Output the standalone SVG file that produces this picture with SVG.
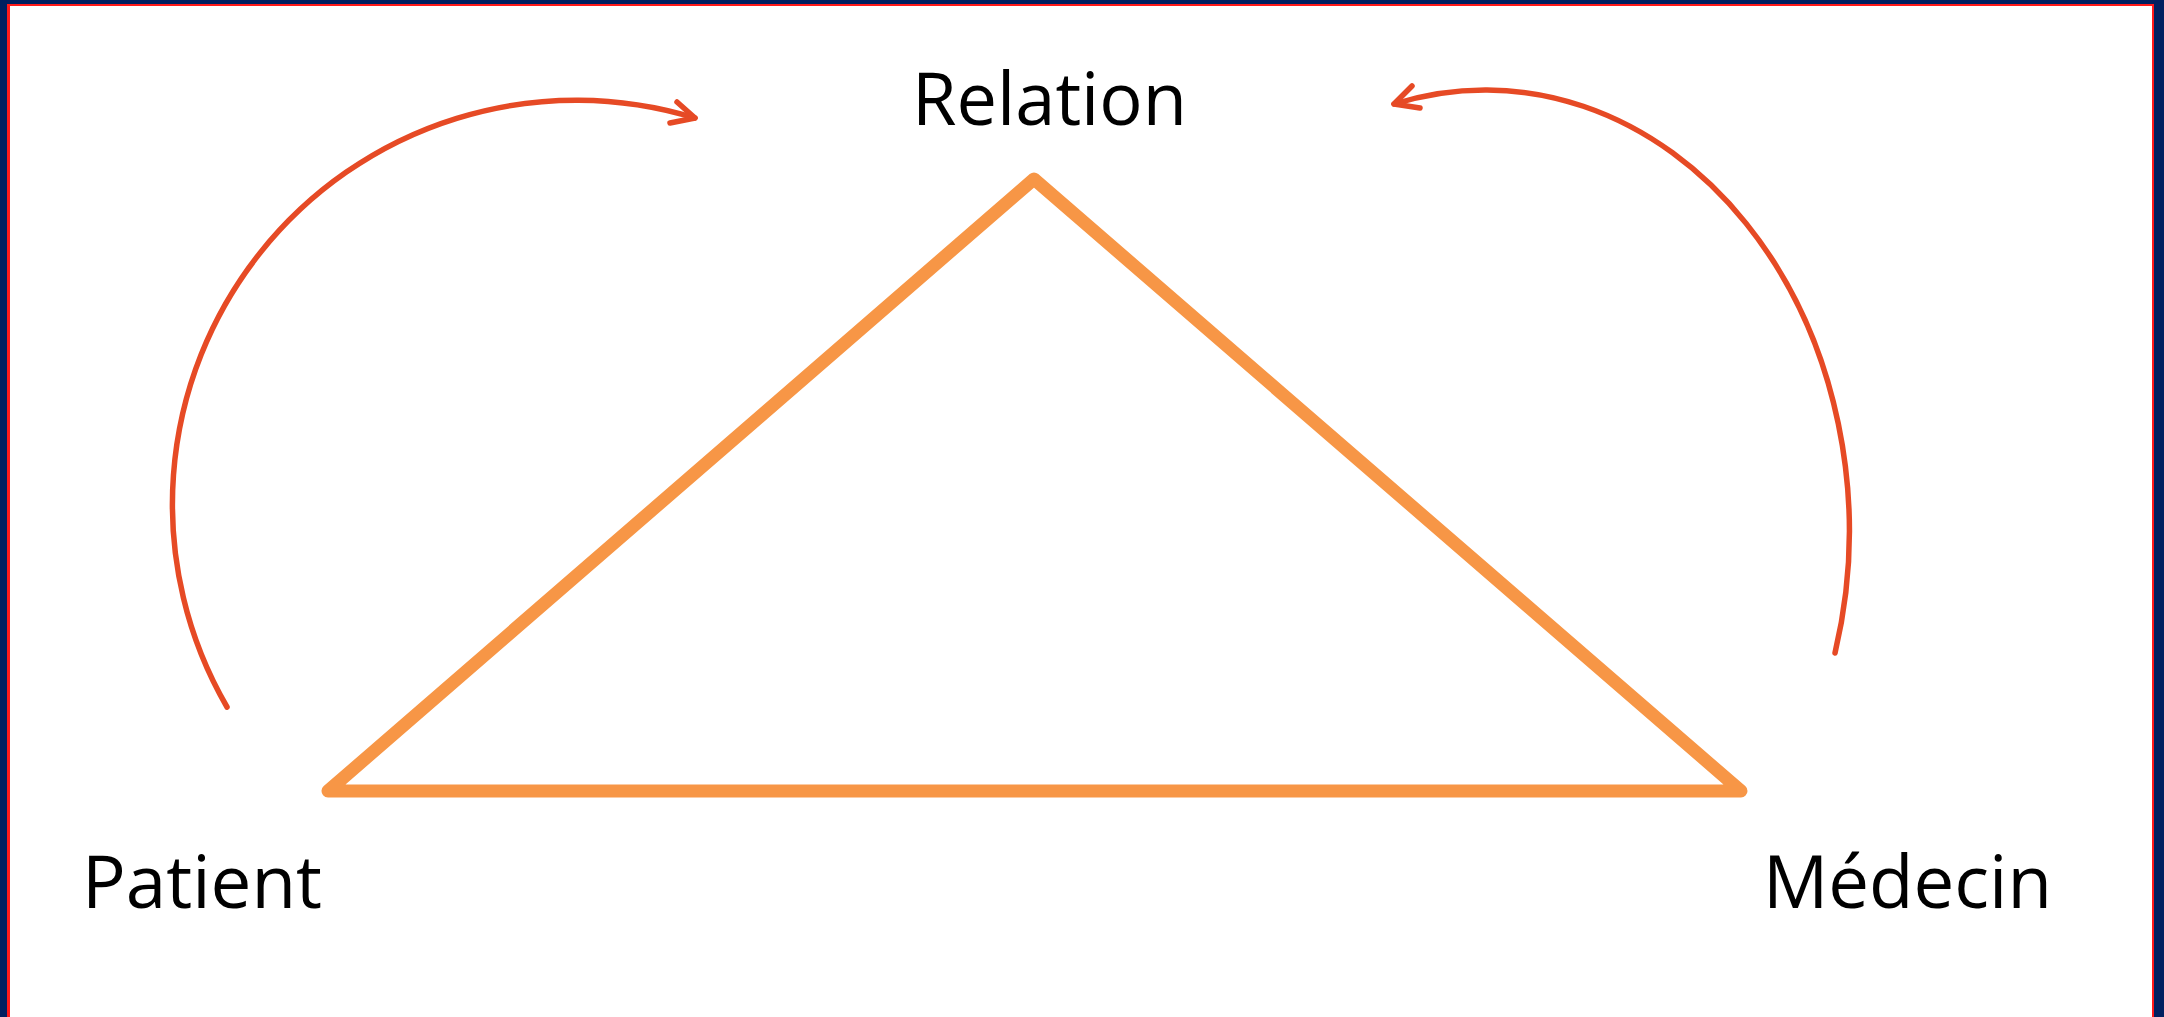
<svg xmlns="http://www.w3.org/2000/svg" width="2164" height="1017" viewBox="0 0 2164 1017">
  <style>
    .label { font-family: "Open Sans", "Liberation Sans", sans-serif; font-size: 73px; fill: #000000; }
    .tri { fill: none; stroke: #F79646; stroke-width: 13; stroke-linejoin: round; stroke-linecap: round; }
    .arc { fill: none; stroke: #E64A25; stroke-width: 5.5; stroke-linecap: round; stroke-linejoin: round; }
  </style>
  <rect x="0" y="0" width="2164" height="1017" fill="#002060"/>
  <rect x="7" y="4" width="2147" height="1030" fill="#FF1A1A"/>
  <rect x="10" y="6" width="2142" height="1030" fill="#FFFFFF"/>

  <g id="triangle">
    <polygon class="tri" points="1034,179 328,791 1741,791"/>
  </g>

  <g id="node-relation">
    <text class="label" x="912" y="125" textLength="275" lengthAdjust="spacingAndGlyphs">Relation</text>
  </g>
  <g id="node-patient">
    <text class="label" x="82" y="908" textLength="240" lengthAdjust="spacingAndGlyphs">Patient</text>
  </g>
  <g id="node-medecin">
    <text class="label" x="1763" y="908" textLength="289" lengthAdjust="spacingAndGlyphs">Médecin</text>
  </g>

  <g id="connectors">
    <path class="arc" d="M227,707 A404,404 0 0 1 695,118"/>
    <polyline class="arc" points="677,102 695,118 670,123"/>
    <path class="arc" d="M1835,653 A364,441 0 0 0 1394,104"/>
    <polyline class="arc" points="1412,86 1394,104 1420,108"/>
  </g>
</svg>
